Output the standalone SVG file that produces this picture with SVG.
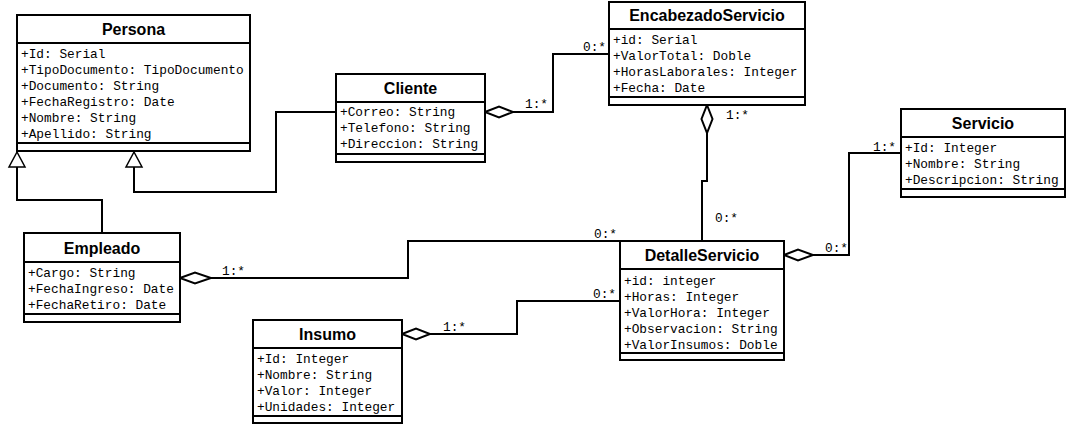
<svg xmlns="http://www.w3.org/2000/svg" width="1067" height="426" viewBox="0 0 1067 426">
<style>
.box{fill:#fff;stroke:#000;stroke-width:2}
.sep{stroke:#000;stroke-width:2}
.title{font-family:"Liberation Sans",Arial,sans-serif;font-weight:bold;font-size:16px;text-anchor:middle;fill:#000}
.attr{font-family:"Liberation Mono","Courier New",monospace;font-size:12.8px;fill:#000}
.lbl{font-family:"Liberation Mono","Courier New",monospace;font-size:12.8px;fill:#000}
.line{fill:none;stroke:#000;stroke-width:2}
.dia{fill:#fff;stroke:#000;stroke-width:2}
.tri{fill:#fff;stroke:#000;stroke-width:1.5}
</style>
<rect width="1067" height="426" fill="#fff"/>
<g id="connectors">
  <polyline class="line" points="17,167 17,200 102,200 102,233"/>
  <polygon class="tri" points="17,152 9,167 25,167"/>
  <polyline class="line" points="134,167 134,192 276,192 276,112 336,112"/>
  <polygon class="tri" points="134,152 126,167 142,167"/>
  <polyline class="line" points="513,112 553,112 553,54 609,54"/>
  <polygon class="dia" points="485,112 499,106.5 513,112 499,117.5"/>
  <text class="lbl" x="525" y="108">1:*</text>
  <text class="lbl" x="583" y="51">0:*</text>
  <polyline class="line" points="707,133 707,181 702,181 702,241"/>
  <polygon class="dia" points="707,105 712.5,119 707,133 701.5,119"/>
  <text class="lbl" x="726" y="119">1:*</text>
  <text class="lbl" x="715" y="222">0:*</text>
  <polyline class="line" points="211,278 408,278 408,241 620,241"/>
  <polygon class="dia" points="180,278 195,272.5 211,278 195,283.5"/>
  <text class="lbl" x="222" y="275">1:*</text>
  <text class="lbl" x="594" y="238">0:*</text>
  <polyline class="line" points="430,334 517,334 517,301 620,301"/>
  <polygon class="dia" points="402,334 416,328.5 430,334 416,339.5"/>
  <text class="lbl" x="443" y="331">1:*</text>
  <text class="lbl" x="593" y="298">0:*</text>
  <polyline class="line" points="813,255 849,255 849,153 901,153"/>
  <polygon class="dia" points="784,255 798,249.5 813,255 798,260.5"/>
  <text class="lbl" x="825" y="252">0:*</text>
  <text class="lbl" x="873" y="151">1:*</text>
</g>
<g id="Persona">
  <rect class="box" x="17" y="15" width="233" height="136"/>
  <line class="sep" x1="17" y1="43" x2="250" y2="43"/>
  <line class="sep" x1="17" y1="143" x2="250" y2="143"/>
  <text class="title" x="133.5" y="35">Persona</text>
  <text class="attr" x="21" y="58">+Id: Serial</text>
  <text class="attr" x="21" y="74">+TipoDocumento: TipoDocumento</text>
  <text class="attr" x="21" y="90">+Documento: String</text>
  <text class="attr" x="21" y="106">+FechaRegistro: Date</text>
  <text class="attr" x="21" y="122">+Nombre: String</text>
  <text class="attr" x="21" y="138">+Apellido: String</text>
</g>
<g id="Cliente">
  <rect class="box" x="336" y="74" width="149" height="88"/>
  <line class="sep" x1="336" y1="102" x2="485" y2="102"/>
  <line class="sep" x1="336" y1="154" x2="485" y2="154"/>
  <text class="title" x="410.5" y="94">Cliente</text>
  <text class="attr" x="340" y="116">+Correo: String</text>
  <text class="attr" x="340" y="132">+Telefono: String</text>
  <text class="attr" x="340" y="148">+Direccion: String</text>
</g>
<g id="EncabezadoServicio">
  <rect class="box" x="609" y="2" width="196" height="103"/>
  <line class="sep" x1="609" y1="29" x2="805" y2="29"/>
  <line class="sep" x1="609" y1="97" x2="805" y2="97"/>
  <text class="title" x="707" y="21">EncabezadoServicio</text>
  <text class="attr" x="613" y="44">+id: Serial</text>
  <text class="attr" x="613" y="60">+ValorTotal: Doble</text>
  <text class="attr" x="613" y="76">+HorasLaborales: Integer</text>
  <text class="attr" x="613" y="92">+Fecha: Date</text>
</g>
<g id="Servicio">
  <rect class="box" x="901" y="109" width="164" height="88"/>
  <line class="sep" x1="901" y1="137" x2="1065" y2="137"/>
  <line class="sep" x1="901" y1="189" x2="1065" y2="189"/>
  <text class="title" x="983" y="129">Servicio</text>
  <text class="attr" x="905" y="152">+Id: Integer</text>
  <text class="attr" x="905" y="168">+Nombre: String</text>
  <text class="attr" x="905" y="184">+Descripcion: String</text>
</g>
<g id="Empleado">
  <rect class="box" x="24" y="233" width="156" height="89"/>
  <line class="sep" x1="24" y1="262" x2="180" y2="262"/>
  <line class="sep" x1="24" y1="314" x2="180" y2="314"/>
  <text class="title" x="102" y="254">Empleado</text>
  <text class="attr" x="28" y="277">+Cargo: String</text>
  <text class="attr" x="28" y="293">+FechaIngreso: Date</text>
  <text class="attr" x="28" y="309">+FechaRetiro: Date</text>
</g>
<g id="DetalleServicio">
  <rect class="box" x="620" y="241" width="164" height="119"/>
  <line class="sep" x1="620" y1="269" x2="784" y2="269"/>
  <line class="sep" x1="620" y1="353" x2="784" y2="353"/>
  <text class="title" x="702" y="261">DetalleServicio</text>
  <text class="attr" x="624" y="285">+id: integer</text>
  <text class="attr" x="624" y="301">+Horas: Integer</text>
  <text class="attr" x="624" y="317">+ValorHora: Integer</text>
  <text class="attr" x="624" y="333">+Observacion: String</text>
  <text class="attr" x="624" y="349">+ValorInsumos: Doble</text>
</g>
<g id="Insumo">
  <rect class="box" x="253" y="320" width="149" height="103"/>
  <line class="sep" x1="253" y1="348" x2="402" y2="348"/>
  <line class="sep" x1="253" y1="416" x2="402" y2="416"/>
  <text class="title" x="327.5" y="340">Insumo</text>
  <text class="attr" x="257" y="363">+Id: Integer</text>
  <text class="attr" x="257" y="379">+Nombre: String</text>
  <text class="attr" x="257" y="395">+Valor: Integer</text>
  <text class="attr" x="257" y="411">+Unidades: Integer</text>
</g>
</svg>
